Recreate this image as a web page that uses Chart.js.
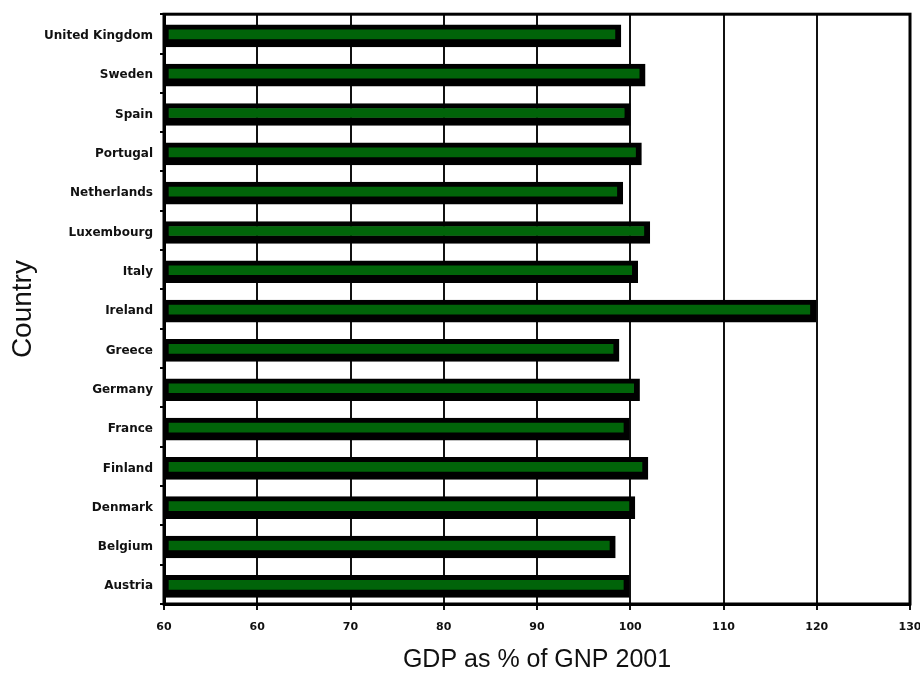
<!DOCTYPE html>
<html>
<head>
<meta charset="utf-8">
<script src="https://cdn.jsdelivr.net/npm/chart.js@4.4.0/dist/chart.umd.min.js"></script>
<style>
  html, body { margin: 0; padding: 0; background: #fff; }
  #wrap { width: 920px; height: 675px; }
</style>
</head>
<body>
<div id="wrap"><canvas id="gdpChart"></canvas></div>
<script>
// countries from top to bottom as in the picture
const countries = [
  "United Kingdom", "Sweden", "Spain", "Portugal", "Netherlands",
  "Luxembourg", "Italy", "Ireland", "Greece", "Germany",
  "France", "Finland", "Denmark", "Belgium", "Austria"
];
const gdpPercent = [
  99.0, 101.6, 100.0, 101.2, 99.2,
  102.1, 100.8, 119.9, 98.8, 101.0,
  99.9, 101.9, 100.5, 98.4, 99.9
];
// tick labels as printed on the x axis
const xTickLabels = ["60", "60", "70", "80", "90", "100", "110", "120", "130"];

// frame around the plot (top and right edges)
const frame = {
  id: "frame",
  beforeDatasetsDraw(chart) {
    // bars sit a little below the category centre in the original
    chart.ctx.save();
    chart.ctx.translate(0, 2);
  },
  afterDatasetsDraw(chart) {
    chart.ctx.restore();
  },
  afterDraw(chart) {
    const { ctx, chartArea } = chart;
    ctx.save();
    ctx.strokeStyle = "#000";
    ctx.lineWidth = 3;
    ctx.strokeRect(chartArea.left, chartArea.top, chartArea.right - chartArea.left, chartArea.bottom - chartArea.top);
    ctx.restore();
  },
};

new Chart(document.getElementById("gdpChart"), {
  type: "bar",
  data: {
    labels: countries,
    datasets: [
      {
        data: gdpPercent,
        backgroundColor: "#016409",
        borderColor: "#000",
        borderWidth: { left: 4, top: 5, right: 6, bottom: 8 },
        borderSkipped: false,
        barThickness: 22,
        base: 50,
      },
    ],
  },
  options: {
    indexAxis: "y",
    responsive: true,
    maintainAspectRatio: false,
    animation: false,
    layout: { padding: { left: 0, top: 13, right: 10, bottom: 0 } },
    plugins: {
      legend: { display: false },
      tooltip: { enabled: false },
    },
    scales: {
      x: {
        min: 50,
        max: 130,
        afterFit(scale) {
          scale.height = 71;
          scale.paddingRight = 0;
        },
        ticks: {
          stepSize: 10,
          padding: 11,
          color: "#111",
          font: { family: "DejaVu Sans", size: 11, weight: "bold" },
          callback: (value, index) => xTickLabels[index],
        },
        grid: {
          color: "#111",
          lineWidth: 2,
          tickLength: 6,
        },
        border: { color: "#000", width: 3 },
        title: {
          display: true,
          text: "GDP as % of GNP 2001",
          color: "#111",
          font: { family: "Liberation Sans, Arial", size: 25 },
          padding: { top: 4, bottom: 0 },
        },
      },
      y: {
        afterFit(scale) {
          scale.width = 164;
        },
        ticks: {
          padding: 7,
          labelOffset: 2,
          color: "#111",
          font: { family: "DejaVu Sans", size: 12, weight: "bold" },
        },
        grid: {
          offset: true,
          drawOnChartArea: false,
          color: "#000",
          lineWidth: 2,
          tickLength: 4,
        },
        border: { color: "#000", width: 3 },
        title: {
          display: true,
          text: "Country",
          color: "#111",
          font: { family: "Liberation Sans, Arial", size: 28 },
          padding: { top: 6, bottom: 0 },
        },
      },
    },
  },
  plugins: [frame],
});
</script>
</body>
</html>
